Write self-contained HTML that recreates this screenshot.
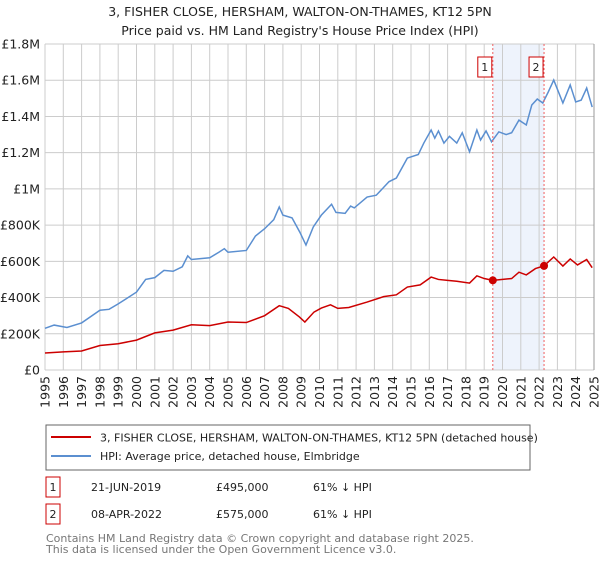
<!DOCTYPE html>
<html><head><meta charset="utf-8"><style>
body{margin:0;background:#fff;font-family:"Liberation Sans","DejaVu Sans",sans-serif;}
svg text{font-family:"DejaVu Sans","Liberation Sans",sans-serif;}
</style></head><body>
<svg id="c" width="600" height="560" xmlns="http://www.w3.org/2000/svg">
<text x="300" y="16" text-anchor="middle" font-size="12.5" fill="#222">3, FISHER CLOSE, HERSHAM, WALTON-ON-THAMES, KT12 5PN</text>
<text x="300" y="35" text-anchor="middle" font-size="12.5" fill="#222">Price paid vs. HM Land Registry's House Price Index (HPI)</text>
<g id="grid"></g><g id="marks"></g><g id="axes"></g>
<g>
<rect x="46" y="425" width="484" height="45" fill="#fff" stroke="#666"/>
<line x1="51" y1="437" x2="91" y2="437" stroke="#cc0000" stroke-width="2"/>
<text x="100" y="441.5" font-size="11" fill="#222">3, FISHER CLOSE, HERSHAM, WALTON-ON-THAMES, KT12 5PN (detached house)</text>
<line x1="51" y1="456" x2="91" y2="456" stroke="#5b8fd0" stroke-width="2"/>
<text x="100" y="460" font-size="11" fill="#222">HPI: Average price, detached house, Elmbridge</text>
</g>
<g font-size="11" fill="#222">
<rect x="46" y="477" width="14" height="20" fill="#fff" stroke="#cc0000"/><text x="53" y="491" text-anchor="middle">1</text>
<text x="91" y="491">21-JUN-2019</text><text x="216" y="491">£495,000</text><text x="313" y="491">61% ↓ HPI</text>
<rect x="46" y="504" width="14" height="20" fill="#fff" stroke="#cc0000"/><text x="53" y="518" text-anchor="middle">2</text>
<text x="91" y="518">08-APR-2022</text><text x="216" y="518">£575,000</text><text x="313" y="518">61% ↓ HPI</text>
</g>
<text x="46" y="542" font-size="11" fill="#777">Contains HM Land Registry data © Crown copyright and database right 2025.</text>
<text x="46" y="553" font-size="11" fill="#777">This data is licensed under the Open Government Licence v3.0.</text>
</svg>
<script>
const hpiYears=[1995,1995.5,1996.2,1997,1998,1998.5,1999,2000,2000.5,2001,2001.5,2002,2002.5,2002.8,2003,2004,2004.5,2004.8,2005,2006,2006.5,2007,2007.5,2007.8,2008,2008.5,2008.93,2009.26,2009.66,2010.1,2010.66,2010.9,2011.4,2011.7,2011.9,2012.6,2013.1,2013.8,2014.2,2014.8,2015.4,2015.7,2016.1,2016.3,2016.5,2016.8,2017.1,2017.5,2017.8,2018.2,2018.6,2018.8,2019.1,2019.4,2019.8,2020.2,2020.5,2020.9,2021.3,2021.6,2021.9,2022.2,2022.5,2022.8,2023.3,2023.7,2024.0,2024.3,2024.6,2024.9];
const hpiValues=[230,248,235,260,330,335,365,430,500,510,550,545,570,630,610,620,650,670,650,660,740,780,830,900,855,840,760,690,790,855,915,870,865,905,895,955,965,1040,1060,1170,1190,1253,1325,1280,1320,1253,1290,1253,1310,1205,1325,1270,1320,1260,1315,1300,1310,1380,1353,1463,1496,1474,1535,1601,1474,1574,1480,1490,1557,1452];
const ppYears=[1995,1996,1997,1998,1999,2000,2001,2002,2003,2004,2005,2006,2007,2007.8,2008.3,2008.9,2009.2,2009.7,2010.1,2010.6,2011,2011.6,2012.6,2013.5,2014.2,2014.8,2015.5,2016.1,2016.5,2017,2017.5,2018.2,2018.6,2019,2019.47,2020.5,2020.9,2021.3,2021.8,2022.27,2022.8,2023.3,2023.7,2024.1,2024.6,2024.9];
const ppValues=[94,100,105,135,145,165,205,220,250,245,265,262,300,355,340,293,265,320,342,360,340,345,375,405,415,458,470,513,500,495,490,480,520,505,495,505,540,525,560,575,624,574,613,580,610,565];
const saleYears=[2019.47,2022.27];
const saleValues=[495,575];
const saleLabels=["1","2"];
const yTicks=[0,200,400,600,800,1000,1200,1400,1600,1800];
const yTickLabels=["£0","£200K","£400K","£600K","£800K","£1M","£1.2M","£1.4M","£1.6M","£1.8M"];
const xTicks=[1995,1996,1997,1998,1999,2000,2001,2002,2003,2004,2005,2006,2007,2008,2009,2010,2011,2012,2013,2014,2015,2016,2017,2018,2019,2020,2021,2022,2023,2024,2025];
const X0=45,X1=594,Y0=370,Y1=44;
const xs=y=>X0+(y-1995)/30*(X1-X0);
const ys=v=>Y0-v/1800*(Y0-Y1);
const NS="http://www.w3.org/2000/svg";
function mk(t,a,p){const e=document.createElementNS(NS,t);for(const k in a)e.setAttribute(k,a[k]);p.appendChild(e);return e;}
const grid=document.getElementById('grid'),marks=document.getElementById('marks'),axes=document.getElementById('axes');
const sh=mk('rect',{x:xs(saleYears[0]),y:Y1,width:xs(saleYears[1])-xs(saleYears[0]),height:Y0-Y1,fill:'#eef3fc'},grid);


xTicks.forEach(t=>{
 const l=mk('line',{x1:xs(t),x2:xs(t),y1:Y1,y2:Y0,stroke:'#ccc'},grid);
 
 
 const tx=mk('text',{x:0,y:0,'font-size':12.5,fill:'#222','text-anchor':'end',transform:`translate(${xs(t)+4.5},${Y0+6}) rotate(-90)`},axes);
 tx.textContent=t;
 
 
});
yTicks.forEach((t,i)=>{
 const l=mk('line',{x1:X0,x2:X1,y1:ys(t),y2:ys(t),stroke:'#ccc'},grid);
 
 
 const tx=mk('text',{x:40,y:ys(t)+4.5,'font-size':12.5,fill:'#222','text-anchor':'end'},axes);
 tx.textContent=yTickLabels[i];
 
 
});
const rb=mk('line',{x1:X1,x2:X1,y1:Y1,y2:Y0,stroke:'#999'},grid);


const hp=mk('polyline',{points:hpiYears.map((y,i)=>xs(y)+','+ys(hpiValues[i])).join(' '),fill:'none',stroke:'#5b8fd0','stroke-width':1.5},marks);


const pp=mk('polyline',{points:ppYears.map((y,i)=>xs(y)+','+ys(ppValues[i])).join(' '),fill:'none',stroke:'#cc0000','stroke-width':1.5},marks);


saleYears.forEach((y,i)=>{
 const v=mk('line',{x1:xs(y),x2:xs(y),y1:Y1,y2:Y0,stroke:'#f06060','stroke-dasharray':'2,2'},marks);
 
 
 const c=mk('circle',{cx:xs(y),cy:ys(saleValues[i]),r:4,fill:'#cc0000'},marks);
 
 
 const b=mk('rect',{x:xs(y)-15,y:57,width:14,height:20,fill:'#fff',stroke:'#cc0000'},marks);
 
 
 const t=mk('text',{x:xs(y)-8,y:71,'font-size':11,fill:'#222','text-anchor':'middle'},marks);
 t.textContent=saleLabels[i];
 
 
});
</script>
</body></html>
